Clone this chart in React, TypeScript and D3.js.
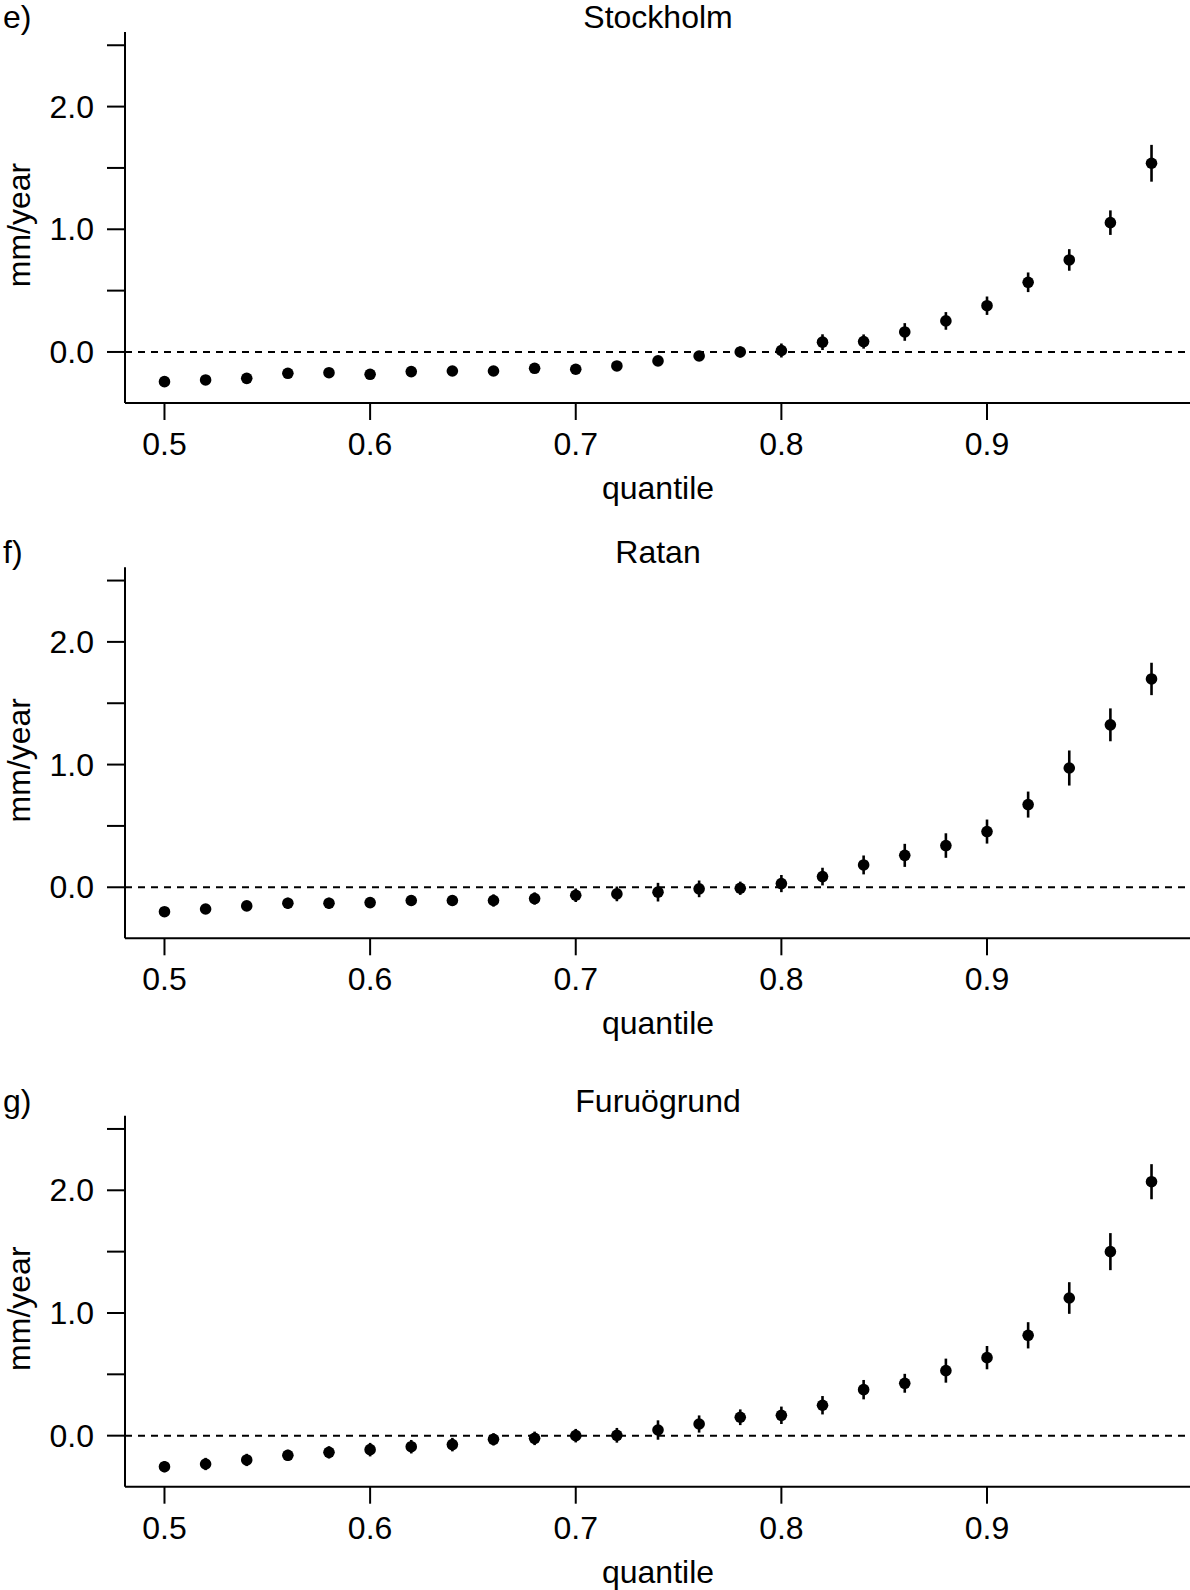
import * as d3 from "d3";

// quantile levels on the x axis
const quantiles = [
  0.5, 0.52, 0.54, 0.56, 0.58, 0.6, 0.62, 0.64, 0.66, 0.68, 0.7, 0.72, 0.74,
  0.76, 0.78, 0.8, 0.82, 0.84, 0.86, 0.88, 0.9, 0.92, 0.94, 0.96, 0.98,
];

// trend (mm/year) and half-width of the error bar, per station
const stockholm = [
  -0.242, -0.228, -0.215, -0.174, -0.169, -0.182, -0.16, -0.155, -0.155, -0.133,
  -0.141, -0.114, -0.073, -0.033, 0.0, 0.012, 0.08, 0.085, 0.163, 0.253, 0.377,
  0.568, 0.75, 1.054, 1.538,
];
const stockholmErr = [
  0.025, 0.025, 0.025, 0.03, 0.03, 0.03, 0.03, 0.03, 0.03, 0.03, 0.03, 0.035,
  0.04, 0.04, 0.045, 0.057, 0.064, 0.058, 0.072, 0.072, 0.075, 0.08, 0.088,
  0.1, 0.15,
];

const ratan = [
  -0.199, -0.177, -0.152, -0.13, -0.13, -0.125, -0.108, -0.108, -0.108, -0.092,
  -0.065, -0.054, -0.04, -0.013, -0.008, 0.03, 0.087, 0.182, 0.26, 0.34, 0.454,
  0.674, 0.972, 1.324, 1.698,
];
const ratanErr = [
  0.035, 0.04, 0.04, 0.045, 0.045, 0.04, 0.045, 0.045, 0.05, 0.05, 0.055, 0.06,
  0.076, 0.068, 0.054, 0.07, 0.072, 0.077, 0.094, 0.1, 0.098, 0.106, 0.143,
  0.134, 0.132,
];

const furuogrund = [
  -0.253, -0.231, -0.198, -0.16, -0.136, -0.114, -0.09, -0.073, -0.03, -0.022,
  0.0, 0.003, 0.046, 0.095, 0.15, 0.166, 0.248, 0.375, 0.427, 0.53, 0.636, 0.818,
  1.122, 1.5, 2.07,
];
const furuogrundErr = [
  0.045, 0.05, 0.05, 0.045, 0.05, 0.055, 0.055, 0.055, 0.05, 0.055, 0.055, 0.06,
  0.079, 0.07, 0.064, 0.071, 0.075, 0.079, 0.077, 0.098, 0.095, 0.107, 0.129,
  0.151, 0.143,
];

const xTicks = [0.5, 0.6, 0.7, 0.8, 0.9];
const yTicks = [0, 0.5, 1, 1.5, 2, 2.5];
const yLabels = [0, 1, 2];

const panels = [
  { tag: "e)", name: "Stockholm", values: stockholm, errors: stockholmErr, top: 0 },
  { tag: "f)", name: "Ratan", values: ratan, errors: ratanErr, top: 535.3 },
  { tag: "g)", name: "Furuögrund", values: furuogrund, errors: furuogrundErr, top: 1083.7 },
];

const W = 1190;
const H = 1590;
const font = "'Liberation Sans', Arial, Helvetica, sans-serif";
const fs = 32;

const x = d3.scaleLinear().domain([0.4808, 0.9992]).range([125, 1191]);
const y = d3.scaleLinear().domain([-0.416, 2.608]).range([403, 32]);

function Panel({ tag, name, values, errors, top }) {
  const [x0, x1] = x.range();
  const [yb, yt] = y.range();
  return (
    <g transform={`translate(0,${top})`}>
      <text x={3} y={28} fontSize={fs}>{tag}</text>
      <text x={(x0 + x1) / 2} y={28} fontSize={fs} textAnchor="middle">{name}</text>

      {/* y axis */}
      <line x1={x0} x2={x0} y1={yt} y2={yb} stroke="#000" strokeWidth={2} />
      {yTicks.map((t) => (
        <line key={t} x1={x0 - 18} x2={x0} y1={y(t)} y2={y(t)} stroke="#000" strokeWidth={2} />
      ))}
      {yLabels.map((t) => (
        <text key={t} x={94} y={y(t)} dy="0.35em" fontSize={fs} textAnchor="end">
          {d3.format(".1f")(t)}
        </text>
      ))}
      <text
        transform={`translate(30,225) rotate(-90)`}
        fontSize={fs}
        textAnchor="middle"
      >
        mm/year
      </text>

      {/* x axis */}
      <line x1={x0} x2={x1} y1={yb} y2={yb} stroke="#000" strokeWidth={2} />
      {xTicks.map((t) => (
        <g key={t}>
          <line x1={x(t)} x2={x(t)} y1={yb} y2={yb + 17} stroke="#000" strokeWidth={2} />
          <text x={x(t)} y={455} fontSize={fs} textAnchor="middle">
            {d3.format(".1f")(t)}
          </text>
        </g>
      ))}
      <text x={(x0 + x1) / 2} y={499} fontSize={fs} textAnchor="middle">quantile</text>

      {/* zero reference */}
      <line
        x1={x0}
        x2={x1}
        y1={y(0)}
        y2={y(0)}
        stroke="#000"
        strokeWidth={2}
        strokeDasharray="7,6"
      />

      {values.map((v, i) => (
        <g key={i}>
          <line
            x1={x(quantiles[i])}
            x2={x(quantiles[i])}
            y1={y(v - errors[i])}
            y2={y(v + errors[i])}
            stroke="#000"
            strokeWidth={2.6}
          />
          <circle cx={x(quantiles[i])} cy={y(v)} r={5.8} fill="#000" />
        </g>
      ))}
    </g>
  );
}

export default function App() {
  return (
    <svg
      width={W}
      height={H}
      style={{ position: "absolute", left: 0, top: 0, background: "#fff" }}
      fontFamily={font}
    >
      <rect width={W} height={H} fill="#fff" />
      {panels.map((p) => (
        <Panel key={p.tag} {...p} />
      ))}
    </svg>
  );
}
